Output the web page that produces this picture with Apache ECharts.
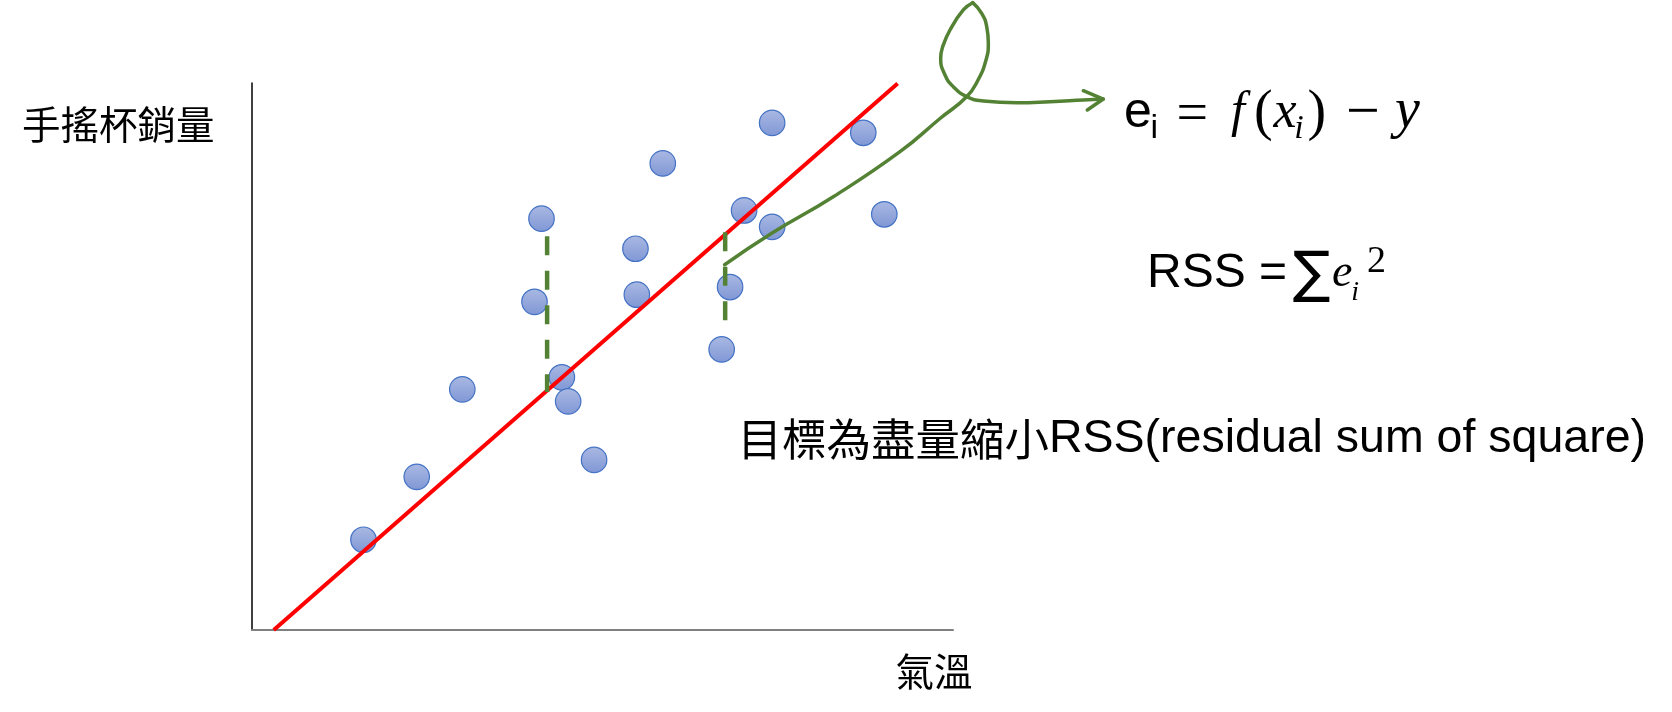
<!DOCTYPE html>
<html>
<head>
<meta charset="utf-8">
<script src="https://cdn.jsdelivr.net/npm/echarts@6/dist/echarts.min.js"></script>
<style>
  html, body { margin: 0; padding: 0; background: #ffffff; }
  #chart { width: 1672px; height: 712px; }
</style>
</head>
<body>
<div id="chart"></div>
<script>
// ---------------- data (arbitrary units 0..100) ----------------
const xAxisName = '氣溫';
const yAxisName = '手搖杯銷量';

// observed points [temperature, sales]
const points = [
  [15.9, 16.5], [23.5, 28.0], [30.0, 44.0], [40.3, 60.0], [41.3, 75.2],
  [44.2, 46.2], [45.1, 41.8], [48.8, 31.1], [54.7, 69.7], [54.9, 61.3],
  [58.6, 85.3], [67.0, 51.3], [68.2, 62.7], [70.2, 76.7], [74.2, 73.7],
  [74.2, 92.7], [87.2, 90.9], [90.2, 76.0]
];

// fitted regression line f(x)
const fitLine = [[3.1, 0], [92.1, 99.9]];

// residual segments e_i (vertical, from top to bottom)
const residualLeft = [[42.1, 72.0], [42.1, 43.5]];
const residualRight = [[67.5, 72.7], [67.5, 56.3]];

// hand-drawn annotation pointer (same data units, drawn on an extended hidden grid)
const pointerRise = [
  [67.42, 66.78], [74.14, 72.52], [82.92, 79.21], [92.44, 87.44],
  [98.15, 93.51], [101.95, 97.50], [103.57, 100.55], [104.71, 104.20],
  [105.04, 107.26], [104.81, 110.29], [104.09, 112.74], [102.81, 114.68]
];
const pointerLoop = [
  [102.81, 114.68], [101.47, 113.35], [99.57, 109.69], [98.53, 106.64],
  [98.24, 104.52], [98.86, 101.46], [100.04, 99.32], [101.95, 97.50],
  [104.32, 96.71], [109.09, 96.40], [113.84, 96.58], [118.59, 96.89], [121.44, 97.07]
];
const pointerHead = [[118.59, 98.59], [121.44, 97.07], [119.16, 95.06]];

// annotation texts
const goalCjk = '目標為盡量縮小';
const goalLatin = 'RSS(residual sum of square)';

// ---------------- styles / layout ----------------
const SANS = 'Liberation Sans';
const SERIF = 'Liberation Serif';
const GREEN = '#548235';
const K = 0.2; // baseline offset below the middle anchor, in em

// formula pieces: [text, x, baseline, fontSize, family, fontStyle]
const formula1 = [
  ['e', 1124, 123.3, 50, SANS, 'normal'],
  ['i', 1150.5, 135, 34, SANS, 'normal'],
  ['=', 1176.4, 127, 56, SERIF, 'normal'],
  ['f', 1231, 123.3, 50, SERIF, 'italic'],
  ['(', 1254, 125.1, 56, SERIF, 'normal'],
  ['x', 1273.4, 123.3, 52, SERIF, 'italic'],
  ['i', 1294.3, 136.3, 34, SERIF, 'italic'],
  [')', 1307.4, 125.1, 56, SERIF, 'normal'],
  ['\u2212', 1346, 126.7, 60, SERIF, 'normal'],
  ['y', 1395, 123.3, 56, SERIF, 'italic']
];
const formula2 = [
  ['RSS =', 1147, 283.3, 48, SANS, 'normal'],
  ['\u2211', 1292.6, 288, 56, 'DejaVu Sans', 'normal'],
  ['e', 1332, 283.3, 46, SERIF, 'italic'],
  ['i', 1351.3, 298, 28, SERIF, 'italic'],
  ['2', 1366.9, 269.3, 38, SERIF, 'normal']
];

function pieceToGraphic(p) {
  return {
    type: 'text', x: p[1], y: p[2] - K * p[3], silent: true, z: 100,
    style: {
      text: p[0], fill: '#000000', fontSize: p[3], fontFamily: p[4],
      fontStyle: p[5], align: 'left', verticalAlign: 'middle'
    }
  };
}

const graphics = formula1.map(pieceToGraphic).concat(formula2.map(pieceToGraphic));
graphics.push({
  type: 'text', x: 737.5, y: 439, silent: true, z: 100,
  style: {
    text: '{c|' + goalCjk + '}{e|' + goalLatin + '}',
    fill: '#000000', align: 'left', verticalAlign: 'middle',
    rich: {
      c: { fontSize: 44.5, fontFamily: 'Noto Sans CJK TC', fill: '#000000' },
      e: { fontSize: 46.5, fontFamily: SANS, fill: '#000000' }
    }
  }
});

const chart = echarts.init(document.getElementById('chart'), null, { renderer: 'canvas' });

function greenLine(data, smooth) {
  return {
    type: 'line', data: data, smooth: smooth, symbol: 'none', clip: false,
    xAxisIndex: 1, yAxisIndex: 1, silent: true, z: 5,
    lineStyle: { color: GREEN, width: 3.5, cap: 'round', join: 'round' }
  };
}
function residual(data) {
  return {
    type: 'line', data: data, symbol: 'none', clip: false, silent: true, z: 4,
    lineStyle: { color: GREEN, width: 4.5, type: [19, 15.5], cap: 'butt' }
  };
}

const hiddenAxis = { type: 'value', show: false, axisLine: { show: false },
  axisTick: { show: false }, axisLabel: { show: false }, splitLine: { show: false } };

chart.setOption({
  animation: false,
  backgroundColor: '#ffffff',
  grid: [
    { left: 252, right: 719, top: 83, bottom: 82, containLabel: false },
    // same scale as the main grid, extended to the right and upward for the pointer
    { left: 252, right: 522.72, top: 0.95, bottom: 82, containLabel: false }
  ],
  xAxis: [
    {
      type: 'value', min: 0, max: 100, gridIndex: 0,
      name: xAxisName, nameLocation: 'end', nameGap: -19,
      nameTextStyle: {
        fontSize: 38.5, fontFamily: 'Noto Sans CJK TC', color: '#000000',
        align: 'center', verticalAlign: 'top', padding: [22.5, 0, 0, 0]
      },
      axisLine: { show: true, lineStyle: { color: '#808080', width: 2 } },
      axisTick: { show: false }, axisLabel: { show: false }, splitLine: { show: false }
    },
    Object.assign({ gridIndex: 1, min: 0, max: 128 }, hiddenAxis)
  ],
  yAxis: [
    {
      type: 'value', min: 0, max: 100, gridIndex: 0,
      name: yAxisName, nameLocation: 'end', nameGap: -41.7,
      nameTextStyle: {
        fontSize: 38.5, fontFamily: 'Noto Sans CJK TC', color: '#000000',
        align: 'right', verticalAlign: 'middle', padding: [0, 37.5, 0, 0]
      },
      axisLine: { show: true, lineStyle: { color: '#000000', width: 1.5 } },
      axisTick: { show: false }, axisLabel: { show: false }, splitLine: { show: false }
    },
    Object.assign({ gridIndex: 1, min: 0, max: 115 }, hiddenAxis)
  ],
  graphic: graphics,
  series: [
    {
      type: 'scatter', data: points, symbol: 'circle', symbolSize: 25.5, z: 2,
      silent: true,
      itemStyle: {
        color: new echarts.graphic.LinearGradient(0, 0, 0, 1, [
          { offset: 0, color: '#aab9e3' },
          { offset: 1, color: '#8097d5' }
        ]),
        borderColor: '#4472c4', borderWidth: 1.2, opacity: 1
      }
    },
    {
      type: 'line', data: fitLine, symbol: 'none', z: 3, silent: true, clip: false,
      lineStyle: { color: '#ff0000', width: 4 }
    },
    residual(residualLeft),
    residual(residualRight),
    greenLine(pointerRise, 0.5),
    greenLine(pointerLoop, 0.5),
    greenLine(pointerHead, false)
  ]
});
</script>
</body>
</html>
